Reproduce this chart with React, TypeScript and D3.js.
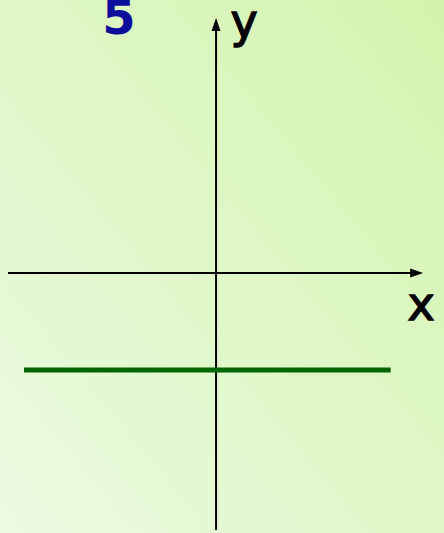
import * as d3 from "d3";

// graph of a constant function y = c (c < 0)
const xDomain = [-4.29, 4.27];
const yDomain = [-5.3, 5.26];
const lineXs = [-3.96, 3.6];
const lineY = -2;
const problemLabel = "5";
const axisLabels = { x: "x", y: "y" };

const W = 444;
const H = 533;

export default function App() {
  const sx = d3.scaleLinear().domain(xDomain).range([8, 8 + 48.5 * (xDomain[1] - xDomain[0])]);
  const sy = d3.scaleLinear().domain(yDomain).range([273 + 48.5 * -yDomain[0], 273 - 48.5 * yDomain[1]]);

  const x0 = sx(0);
  const y0 = sy(0);
  const line = d3.line<number>().x((d) => sx(d)).y(() => sy(lineY));

  const xEnd = sx(xDomain[1]);
  const yEnd = sy(yDomain[1]);

  return (
    <svg
      width={W}
      height={H}
      style={{ position: "absolute", left: 0, top: 0, display: "block" }}
    >
      <defs>
        <linearGradient id="bg" x1="1" y1="0" x2="0" y2="1">
          <stop offset="0" stopColor="#d3f4ad" />
          <stop offset="1" stopColor="#ebfae1" />
        </linearGradient>
      </defs>
      <rect width={W} height={H} fill="url(#bg)" />

      {/* axes */}
      <line x1={sx(xDomain[0])} x2={xEnd - 10} y1={y0} y2={y0} stroke="#000" strokeWidth={2} />
      <path d={`M${xEnd},${y0} L${xEnd - 13},${y0 - 4.5} L${xEnd - 13},${y0 + 4.5}Z`} fill="#000" />
      <line x1={x0} x2={x0} y1={sy(yDomain[0])} y2={yEnd + 10} stroke="#000" strokeWidth={2} />
      <path d={`M${x0},${yEnd} L${x0 - 4.5},${yEnd + 13} L${x0 + 4.5},${yEnd + 13}Z`} fill="#000" />

      <text x={421} y={320} textAnchor="middle" fontFamily="DejaVu Sans" fontSize={46} fill="#000" stroke="#000" strokeWidth={1.3}>
        {axisLabels.x}
      </text>
      <text x={244} y={37} textAnchor="middle" fontFamily="DejaVu Sans" fontSize={46} fill="#000" stroke="#000" strokeWidth={1.3}>
        {axisLabels.y}
      </text>

      <text x={119} y={34} textAnchor="middle" fontFamily="DejaVu Sans" fontWeight="bold" fontSize={48} fill="#0d0d9c">
        {problemLabel}
      </text>

      <path d={line(lineXs) ?? ""} stroke="#006400" strokeWidth={5} fill="none" />
    </svg>
  );
}
